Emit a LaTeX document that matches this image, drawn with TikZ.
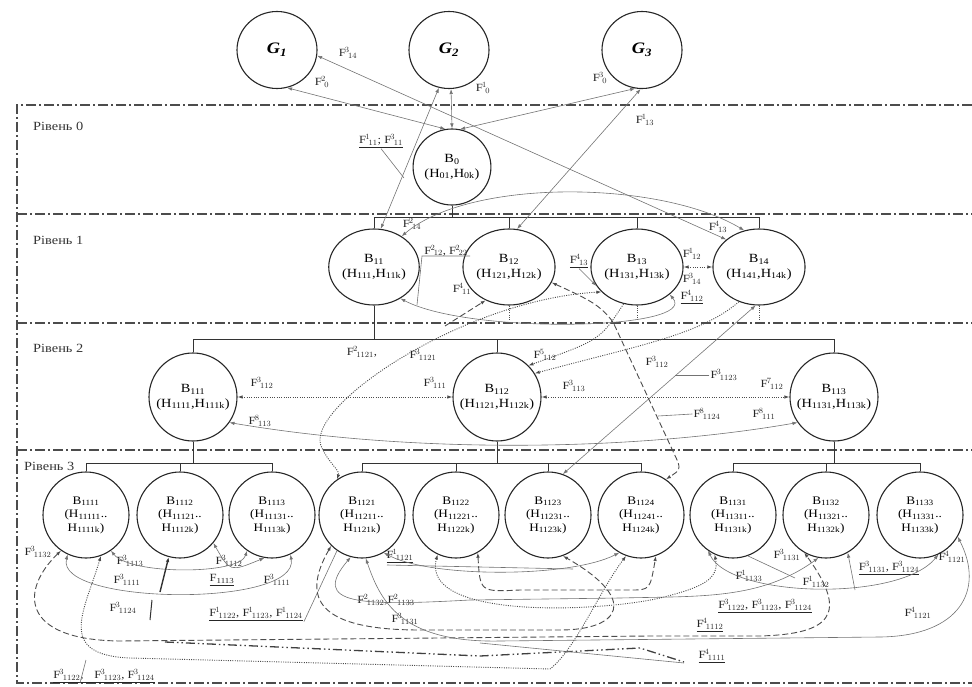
\documentclass[tikz,border=0pt]{standalone}
\usepackage{fontspec}
\setmainfont{Liberation Serif}[FakeStretch=1.15]
\usetikzlibrary{shapes.geometric,arrows.meta}
\newcommand{\Ff}[2]{$\mathrm{F}^{#1}{}_{\!#2}$}
\newcommand{\sbx}[1]{\textsubscript{#1}}
\begin{document}
\begin{tikzpicture}[x=1pt,y=-1pt,
 lvl/.style={line width=1.2pt, draw=black!70, dash pattern=on 10pt off 3pt on 2pt off 3pt},
 bus/.style={line width=0.9pt, draw=black!80},
 bnode/.style={ellipse, draw=black!85, line width=1.1pt, inner sep=0pt, align=center, minimum width=84pt, minimum height=76pt, font=\fontsize{12.5}{14.5}\selectfont},
 cnode/.style={circle, draw=black!85, line width=1.1pt, inner sep=0pt, align=center, minimum size=88pt, font=\fontsize{12.5}{14.5}\selectfont},
 tnode/.style={circle, draw=black!85, line width=1.1pt, inner sep=0pt, align=center, minimum size=86pt, font=\fontsize{11.5}{13.5}\selectfont},
 gnode/.style={ellipse, draw=black!85, line width=1.1pt, minimum width=80pt, minimum height=77pt, font=\fontsize{16}{18}\selectfont\bfseries\itshape},
 conn/.style={draw=black!55, line width=0.6pt},
 tip/.style={-{Latex[length=5pt,width=3.5pt]}},
 tips/.style={{Latex[length=5pt,width=3.5pt]}-{Latex[length=5pt,width=3.5pt]}},
 dotl/.style={dash pattern=on 1pt off 1.3pt, line width=0.9pt, draw=black!70},
 dshl/.style={dash pattern=on 6pt off 3pt, line width=0.9pt, draw=black!70},
 ddl/.style={dash pattern=on 9pt off 3pt on 1.5pt off 3pt on 1.5pt off 3pt, line width=1.3pt, draw=black!75},
 lab/.style={font=\fontsize{11}{13}\selectfont, inner sep=1pt, text=black!85},
 lvtxt/.style={font=\fontsize{12.5}{14}\selectfont, anchor=west, inner sep=0pt, text=black!80},
]
\useasboundingbox (0,0) rectangle (972,687);

% level frames
\draw[lvl] (972,105) -- (17,105) -- (17,683) -- (972,683);
\draw[lvl] (17,214) -- (972,214);
\draw[lvl] (17,323) -- (972,323);
\draw[lvl] (17,450) -- (972,450);
\node[lvtxt] (L0) at (33,126) {Рівень 0};
\node[lvtxt] (L1) at (33,240) {Рівень 1};
\node[lvtxt] (L2) at (33,348) {Рівень 2};
\node[lvtxt] (L3) at (24,466) {Рівень 3};

% nodes
\node[gnode] (G1) at (277,50) {G\textsubscript{1}};
\node[gnode] (G2) at (449,50) {G\textsubscript{2}};
\node[gnode] (G3) at (642,50) {G\textsubscript{3}};
\node[bnode, minimum width=72pt, minimum height=76pt] (B0) at (452,167) {B\sbx{0}\\(H\sbx{01},H\sbx{0k})};
\node[bnode] (B11) at (374,267) {B\sbx{11}\\(H\sbx{111},H\sbx{11k})};
\node[bnode] (B12) at (509,267) {B\sbx{12}\\(H\sbx{121},H\sbx{12k})};
\node[bnode] (B13) at (637,267) {B\sbx{13}\\(H\sbx{131},H\sbx{13k})};
\node[bnode] (B14) at (759,267) {B\sbx{14}\\(H\sbx{141},H\sbx{14k})};
\node[cnode] (B111) at (193,397) {B\sbx{111}\\(H\sbx{1111},H\sbx{111k})};
\node[cnode] (B112) at (497,397) {B\sbx{112}\\(H\sbx{1121},H\sbx{112k})};
\node[cnode] (B113) at (834,397) {B\sbx{113}\\(H\sbx{1131},H\sbx{113k})};
\node[tnode] (B1111) at (86,515) {B\sbx{1111}\\(H\sbx{11111}..\\H\sbx{1111k})};
\node[tnode] (B1112) at (180,515) {B\sbx{1112}\\(H\sbx{11121}..\\H\sbx{1112k})};
\node[tnode] (B1113) at (272,515) {B\sbx{1113}\\(H\sbx{11131}..\\H\sbx{1113k})};
\node[tnode] (B1121) at (362,515) {B\sbx{1121}\\(H\sbx{11211}..\\H\sbx{1121k})};
\node[tnode] (B1122) at (456,515) {B\sbx{1122}\\(H\sbx{11221}..\\H\sbx{1122k})};
\node[tnode] (B1123) at (548,515) {B\sbx{1123}\\(H\sbx{11231}..\\H\sbx{1123k})};
\node[tnode] (B1124) at (641,515) {B\sbx{1124}\\(H\sbx{11241}..\\H\sbx{1124k})};
\node[tnode] (B1131) at (733,515) {B\sbx{1131}\\(H\sbx{11311}..\\H\sbx{1131k})};
\node[tnode] (B1132) at (826,515) {B\sbx{1132}\\(H\sbx{11321}..\\H\sbx{1132k})};
\node[tnode] (B1133) at (920,515) {B\sbx{1133}\\(H\sbx{11331}..\\H\sbx{1133k})};

% hierarchy buses
\coordinate (y0) at (0,217);
\draw[bus] (B0.south) -- (B0.south |- y0);
\draw[bus] (B11.north) -- (B11.north |- y0) -- (B14.north |- y0) -- (B14.north);
\draw[bus] (B12.north) -- (B12.north |- y0);
\draw[bus] (B13.north) -- (B13.north |- y0);
\coordinate (y1) at (0,339);
\draw[bus] (B11.south) -- (B11.south |- y1);
\draw[bus] (B111.north) -- (B111.north |- y1) -- (B113.north |- y1) -- (B113.north);
\draw[bus] (B112.north) -- (B112.north |- y1);
\draw[dotl,line width=0.6pt] (B12.south) -- ++(0,14);
\draw[dotl,line width=0.6pt] (B13.south) -- ++(0,14);
\draw[dotl,line width=0.6pt] (B14.south) -- ++(0,14);
\coordinate (y2) at (0,463);
\draw[bus] (B111.south) -- (B111.south |- y2);
\draw[bus] (B1111.north) -- (B1111.north |- y2) -- (B1113.north |- y2) -- (B1113.north);
\draw[bus] (B1112.north) -- (B1112.north |- y2);
\draw[bus] (B112.south) -- (B112.south |- y2);
\draw[bus] (B1121.north) -- (B1121.north |- y2) -- (B1124.north |- y2) -- (B1124.north);
\draw[bus] (B1122.north) -- (B1122.north |- y2);
\draw[bus] (B1123.north) -- (B1123.north |- y2);
\draw[bus] (B113.south) -- (B113.south |- y2);
\draw[bus] (B1131.north) -- (B1131.north |- y2) -- (B1133.north |- y2) -- (B1133.north);
\draw[bus] (B1132.north) -- (B1132.north |- y2);

% top connectors
\draw[conn,tips] (G1.-75) -- (B0.100);
\node[lab] at (322,82) {\Ff{2}{0}};
\draw[conn,tips] (G2.-87) -- (B0.north);
\node[lab] at (483,88) {\Ff{1}{0}};
\draw[conn,tips] (G3.-100) -- (B0.78);
\node[lab] at (600,78) {\Ff{3}{0}};
\draw[conn,tips] (G2.-105) -- (B11.80);
\node[lab] at (412,224) {\Ff{2}{14}};
\node[lab] (lA) at (381,141) {\underline{\Ff{1}{11}; \Ff{3}{11}}};
\draw[conn] (lA.south) -- (404,178);
\draw[conn,tips] (G3.-92) -- (B12.78);
\node[lab] at (645,120) {\Ff{1}{13}};
\draw[conn,tips] (G1.-8) -- (B14.140);
\node[lab] at (348,53) {\Ff{3}{14}};
\draw[conn,tips] (B11.48) .. controls (470,178) and (660,180) .. (B14.112);
\node[lab] at (718,227) {\Ff{4}{13}};

% level 1 connectors
\draw[conn,dotl,tips] (B13.east) -- (B14.west);
\node[lab] at (692,254) {\Ff{1}{12}};
\node[lab] at (692,279) {\Ff{3}{14}};
\node[lab] (l4112) at (692,297) {\underline{\Ff{4}{112}}};
\draw[conn,tips] (B11.-50) .. controls (470,335) and (700,330) .. (B13.-40);
\draw[conn] (470,256) -- (422,256) -- (417,305);
\node[lab, anchor=south] at (446,257) {\Ff{2}{12}, \Ff{2}{22}};
\node[lab] at (462,289) {\Ff{4}{11}};
\draw[conn,dshl,tip] (445,326) -- (B12.-125);
\node[lab] (l413) at (579,261) {\underline{\Ff{4}{13}}};
\draw[conn,tip] (l413.south) -- (B13.-155);

% level 2 connectors
\draw[conn,dotl,tips] (B111.east) -- (B112.west);
\node[lab] at (262,383) {\Ff{3}{112}};
\node[lab] at (435,383) {\Ff{3}{111}};
\draw[conn,dotl,tips] (B112.east) -- (B113.west);
\node[lab] at (574,386) {\Ff{3}{113}};
\node[lab] at (772,384) {\Ff{7}{112}};
\draw[conn,tips] (B111.-35) .. controls (420,455) and (640,450) .. (B113.-145);
\node[lab] at (260,421) {\Ff{8}{113}};
\node[lab] at (764,414) {\Ff{8}{111}};
\draw[conn,tips] (B14.-95) -- (B1123.70);
\node[lab] (l3112) at (657,362) {\Ff{3}{112}};
\node[lab] (l31123) at (724,375) {\Ff{3}{1123}};
\draw[conn] (l31123.west) -- (675,375);
\draw[conn,dshl,tips] (B12.-20) .. controls (590,300) and (600,305) .. (613,322) -- (678,462) .. controls (680,470) .. (B1124.55);
\node[lab] (l81124) at (707,414) {\Ff{8}{1124}};
\draw[conn] (l81124.west) -- (658,416);
\draw[conn,dotl,tips] (B13.-145) .. controls (460,300) and (300,410) .. (322,448) .. controls (330,465) and (340,470) .. (B1121.125);
\node[lab] at (362,352) {\Ff{2}{1121},};
\node[lab] at (423,355) {\Ff{3}{1121}};
\draw[conn,dotl,tip] (B14.-120) .. controls (700,335) and (640,345) .. (B112.32);
\draw[conn,dotl,tip] (B13.-110) .. controls (600,340) .. (B112.45);
\node[lab] at (545,355) {\Ff{5}{112}};

% level 3 labels
\node[lab] at (38,552) {\Ff{3}{1132}};
\node[lab] at (130,561) {\Ff{3}{1113}};
\node[lab] at (229,561) {\Ff{3}{1112}};
\node[lab] at (127,580) {\Ff{3}{1111}};
\node[lab] at (222,580) {\underline{F\sbx{1113}}};
\node[lab] at (277,580) {\Ff{3}{1111}};
\node[lab] at (123,608) {\Ff{3}{1124}};
\node[lab] (lF1) at (256,614) {\underline{\Ff{1}{1122}, \Ff{1}{1123}, \Ff{1}{1124}}};
\draw[conn] (lF1.south east) -- (B1121.-125);
\node[lab] (lF3) at (104,676) {\underline{\Ff{3}{1122},\quad \Ff{3}{1123}, \Ff{3}{1124}}};
\draw[conn] (80,683) -- (86,660);
\node[lab] (lF1121) at (400,556) {\underline{\Ff{1}{1121}}};
\node[lab] at (386,600) {\Ff{2}{1132},\Ff{2}{1133}};
\node[lab] at (405,619) {\Ff{3}{1131}};
\node[lab] at (787,555) {\Ff{3}{1131}};
\node[lab] at (749,576) {\Ff{1}{1133}};
\node[lab] at (816,582) {\Ff{1}{1132}};
\node[lab] at (889,568) {\underline{\Ff{3}{1131}, \Ff{3}{1124}}};
\node[lab] at (952,557) {\Ff{4}{1121}};
\node[lab] at (765,606) {\underline{\Ff{3}{1122}, \Ff{3}{1123}, \Ff{3}{1124}}};
\node[lab] at (710,625) {\underline{\Ff{4}{1112}}};
\node[lab] at (918,613) {\Ff{4}{1121}};
\node[lab] at (712,656) {\underline{\Ff{4}{1111}}};

% level 3 connectors: left group
\draw[conn,tips] (B1111.-115) .. controls (55,605) and (300,608) .. (B1113.-65);
\draw[conn,tips] (B1111.-55) .. controls (130,575) and (240,575) .. (B1113.-125);
\draw[conn,tips] (B1112.-40) .. controls (230,572) .. (B1113.-100);
\draw[line width=1.4pt,draw=black!80,tip] (160,592) -- (B1112.-105);
\draw[line width=1pt,draw=black!80] (152,600) -- (150,620);
% big loops
\draw[conn,dshl,tips] (B1111.-125) .. controls (20,590) and (20,640) .. (120,641) -- (650,636) -- (760,636) .. controls (830,634) and (850,615) .. (B1132.-120);
\draw[conn,dotl,tips] (B1111.-70) .. controls (85,610) and (55,655) .. (130,658) -- (550,669) .. controls (575,650) and (600,590) .. (B1124.-110);
\draw[ddl] (165,642) -- (480,656) -- (640,648) -- (684,662);
\draw[conn] (480,643) -- (684,663);
% middle group
\draw[conn,tips] (B1121.-60) .. controls (430,578) and (570,578) .. (B1124.-120);
\draw[conn] (387,565) -- (573,569);
\draw[conn,tips] (B1121.-105) .. controls (310,605) and (360,606) .. (470,600) -- (620,598) .. controls (700,596) and (760,600) .. (B1132.-100);
\draw[conn,dshl,tips] (B1121.-135) .. controls (300,600) and (320,630) .. (420,630) -- (560,630) .. controls (620,630) and (640,600) .. (B1123.-70);
\draw[conn,dotl,tips] (B1122.-115) .. controls (420,620) and (600,612) .. (660,598) .. controls (700,588) and (720,580) .. (B1131.-115);
\draw[conn,dshl,tips] (B1122.-60) .. controls (480,592) .. (520,590) -- (630,590) .. controls (650,590) .. (B1124.-70);
% right group
\draw[conn,tips] (B1131.-125) .. controls (730,598) and (900,602) .. (B1133.-65);
\draw[conn] (B1131.-70) -- (795,578);
\draw[conn,tips] (B1133.-30) .. controls (985,590) and (960,636) .. (880,637) -- (500,641) .. controls (400,643) and (380,600) .. (B1121.-85);
\draw[conn,tip] (855,590) -- (B1132.-60);
\end{tikzpicture}
\end{document}
